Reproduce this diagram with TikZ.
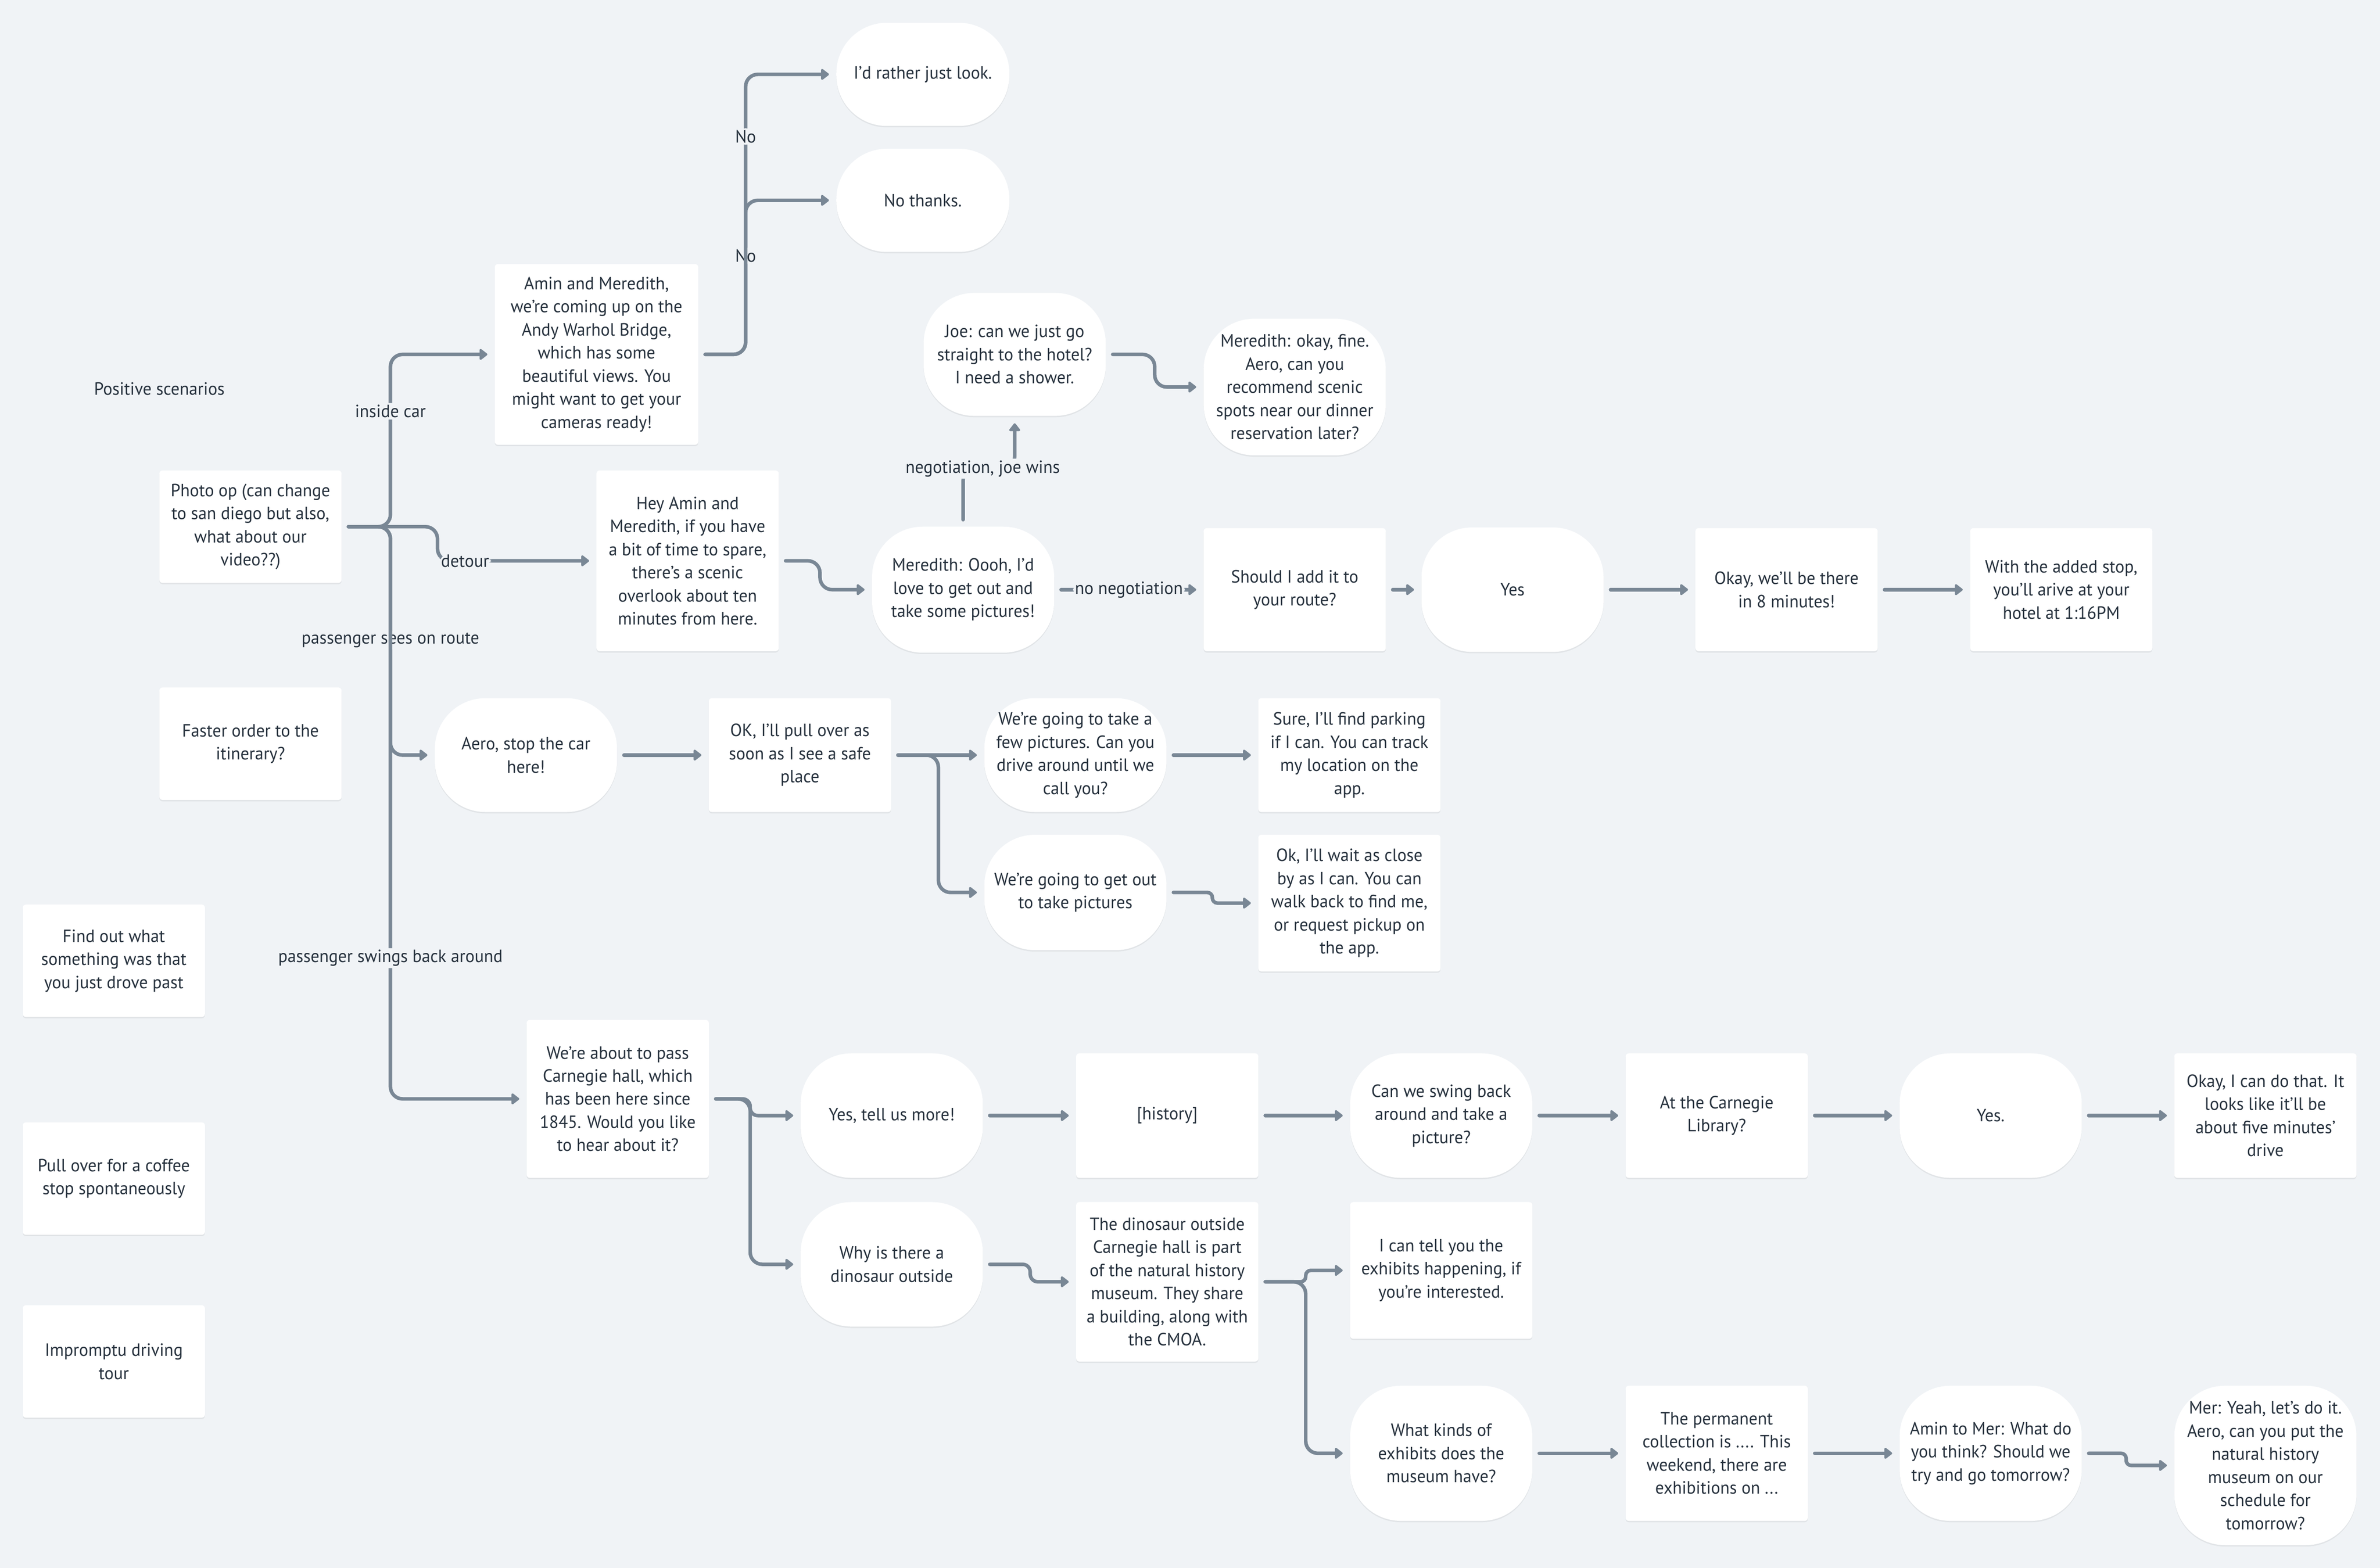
\documentclass[tikz,border=0pt]{standalone}
\usepackage{fontspec}
\setmainfont{PT Sans}[FakeStretch=0.97]
\usepackage{tikz}
\usetikzlibrary{arrows.meta}
\usetikzlibrary{shadows}
\usepackage{xcolor}
\definecolor{canvas}{HTML}{F0F3F6}
\definecolor{wire}{HTML}{798795}
\definecolor{ink}{HTML}{26313D}

\begin{document}
\begin{tikzpicture}[x=0.3mm, y=-0.3mm,
		every node/.style={font=\fontsize{10}{13}\selectfont, text=ink},
		card/.style={fill=white, align=center, minimum width=36mm, inner sep=1mm, rounded corners=0.6mm,
			drop shadow={shadow xshift=0pt, shadow yshift=-0.8pt, opacity=0.06, fill=black}},
		bubble/.style={card, rounded corners=10mm},
		link/.style={draw=wire, line width=2pt, line cap=round, rounded corners=2.4mm,
			-{Triangle[length=1.7mm, width=2.5mm, round]}, shorten <=1.3mm, shorten >=1.4mm},
		lbl/.style={fill=canvas, inner sep=1pt}]
	    		\fill[canvas] (0,0) rectangle (1568,1033);
	    		\useasboundingbox (0,0) rectangle (1568,1033);
	    		\node (heading) at (105,256) {Positive scenarios};
	    		\node[card, minimum height=22.2mm] (photo) at (165,347) {Photo op (can change\\to san diego but also,\\what about our\\video??)};
	    		\node[card, minimum height=22.2mm] (faster) at (165,490) {Faster order to the\\itinerary?};
	    		\node[card, minimum height=22.2mm] (findout) at (75,633) {Find out what\\something was that\\you just drove past};
	    		\node[card, minimum height=22.2mm] (coffee) at (75,776.5) {Pull over for a coffee\\stop spontaneously};
	    		\node[card, minimum height=22.2mm] (tour) at (75,897) {Impromptu driving\\tour};
	    		\node[card, minimum width=40.2mm, minimum height=35.7mm] (bridge) at (393,233.5) {Amin and Meredith,\\we're coming up on the\\Andy Warhol Bridge,\\which has some\\beautiful views. You\\might want to get your\\cameras ready!};
	    		\node[bubble, minimum width=34.2mm, minimum height=20.4mm] (justlook) at (608,49) {I'd rather just look.};
	    		\node[bubble, minimum width=34.2mm, minimum height=20.4mm] (nothanks) at (608,132) {No thanks.};
	    		\node[bubble, minimum height=24.3mm] (shower) at (668.5,233.5) {Joe: can we just go\\straight to the hotel?\\I need a shower.};
	    		\node[bubble, minimum height=27mm] (scenic) at (853,255) {Meredith: okay, fine.\\Aero, can you\\recommend scenic\\spots near our dinner\\reservation later?};
	    		\node[card, minimum height=35.7mm] (overlook) at (453,369.5) {Hey Amin and\\Meredith, if you have\\a bit of time to spare,\\there's a scenic\\overlook about ten\\minutes from here.};
	    		\node[bubble, minimum height=24.9mm] (oooh) at (634.5,388.5) {Meredith: Oooh, I'd\\love to get out and\\take some pictures!};
	    		\node[card, minimum height=24.3mm] (addroute) at (853,388.5) {Should I add it to\\your route?};
	    		\node[bubble, minimum height=24.6mm] (yesadd) at (996.5,388.5) {Yes};
	    		\node[card, minimum height=24.3mm] (eight) at (1177,388.5) {Okay, we'll be there\\in 8 minutes!};
	    		\node[card, minimum height=24.3mm] (arrive) at (1358,388.5) {With the added stop,\\you'll arive at your\\hotel at 1:16PM};
	    		\node[bubble, minimum height=22.5mm] (stopcar) at (346.5,497.5) {Aero, stop the car\\here!};
	    		\node[card, minimum height=22.5mm] (pullover) at (527,497.5) {OK, I'll pull over as\\soon as I see a safe\\place};
	    		\node[bubble, minimum height=22.5mm] (fewpics) at (708.5,497.5) {We're going to take a\\few pictures. Can you\\drive around until we\\call you?};
	    		\node[card, minimum height=22.5mm] (parking) at (889,497.5) {Sure, I'll find parking\\if I can. You can track\\my location on the\\app.};
	    		\node[bubble, minimum height=22.8mm] (getout) at (708.5,588) {We're going to get out\\to take pictures};
	    		\node[card, minimum height=27mm] (waitclose) at (889,595) {Ok, I'll wait as close\\by as I can. You can\\walk back to find me,\\or request pickup on\\the app.};
	    		\node[card, minimum height=31.2mm] (carnegie) at (407,724) {We're about to pass\\Carnegie hall, which\\has been here since\\1845. Would you like\\to hear about it?};
	    		\node[bubble, minimum height=24.6mm] (tellmore) at (587.5,735) {Yes, tell us more!};
	    		\node[bubble, minimum height=24.6mm] (dinosaur) at (587.5,833) {Why is there a\\dinosaur outside};
	    		\node[card, minimum height=24.6mm] (history) at (769,735) {[history]};
	    		\node[card, minimum height=31.5mm] (museum) at (769,844.5) {The dinosaur outside\\Carnegie hall is part\\of the natural history\\museum. They share\\a building, along with\\the CMOA.};
	    		\node[bubble, minimum height=24.6mm] (swing) at (949.5,735) {Can we swing back\\around and take a\\picture?};
	    		\node[card, minimum height=24.6mm] (library) at (1131,735) {At the Carnegie\\Library?};
	    		\node[bubble, minimum height=24.6mm] (yesswing) at (1311.5,735) {Yes.};
	    		\node[card, minimum height=24.6mm] (fivemin) at (1492.5,735) {Okay, I can do that. It\\looks like it'll be\\about five minutes'\\drive};
	    		\node[card, minimum height=27mm] (exhibits) at (949.5,837) {I can tell you the\\exhibits happening, if\\you're interested.};
	    		\node[bubble, minimum height=26.7mm] (kinds) at (949.5,957.5) {What kinds of\\exhibits does the\\museum have?};
	    		\node[card, minimum height=26.7mm] (permanent) at (1131,957.5) {The permanent\\collection is .... This\\weekend, there are\\exhibitions on ...};
	    		\node[bubble, minimum height=26.7mm] (tomorrow) at (1311.5,957.5) {Amin to Mer: What do\\you think? Should we\\try and go tomorrow?};
	    		\node[bubble, minimum height=31.5mm] (schedule) at (1492.5,965.5) {Mer: Yeah, let's do it.\\Aero, can you put the\\natural history\\museum on our\\schedule for\\tomorrow?};
	    		\draw[link] (bridge.east) -- ++(31,0) |- node[lbl, pos=0.32] {No} (nothanks.west);
	    		\draw[link] (bridge.east) -- ++(31,0) |- node[lbl, pos=0.389] {No} (justlook.west);
	    		\draw[link] (photo.east) -- ++(32,0) |- node[lbl, pos=0.335] {inside car} (bridge.west);
	    		\draw[link] (photo.east) -- ++(63,0) |- node[lbl, pos=0.5, anchor=west] {detour} (overlook.west);
	    		\draw[link] (photo.east) -- ++(32,0) |- node[lbl, pos=0.249] {passenger sees on route} (stopcar.west);
	    		\draw[link] (photo.east) -- ++(32,0) |- node[lbl, pos=0.377] {passenger swings back around} (carnegie.west);
	    		\draw[link] (shower.east) -- ++(32,0) |- (scenic.west);
	    		\draw[link] (overlook.east) -- ++(27,0) |- (oooh.west);
	    		\draw[link] (oooh.north) -- ++(0,-38) -| node[lbl, pos=0.19] {negotiation, joe wins} (shower.south);
	    		\draw[link] (oooh) -- node[lbl] {no negotiation} (addroute);
	    		\draw[link] (addroute) -- (yesadd);
	    		\draw[link] (yesadd) -- (eight);
	    		\draw[link] (eight) -- (arrive);
	    		\draw[link] (stopcar) -- (pullover);
	    		\draw[link] (pullover) -- (fewpics);
	    		\draw[link] (pullover.east) -- ++(31,0) |- (getout.west);
	    		\draw[link] (fewpics) -- (parking);
	    		\draw[link, rounded corners=1mm] (getout.east) -- ++(30,0) |- (waitclose.west);
	    		\draw[link, rounded corners=1.5mm] (carnegie.east) -- ++(27,0) |- (tellmore.west);
	    		\draw[link] (carnegie.east) -- ++(27,0) |- (dinosaur.west);
	    		\draw[link] (tellmore) -- (history);
	    		\draw[link, rounded corners=1.5mm] (dinosaur.east) -- ++(31,0) |- (museum.west);
	    		\draw[link] (history) -- (swing);
	    		\draw[link] (swing) -- (library);
	    		\draw[link] (library) -- (yesswing);
	    		\draw[link] (yesswing) -- (fivemin);
	    		\draw[link, rounded corners=1mm] (museum.east) -- ++(31,0) |- (exhibits.west);
	    		\draw[link] (museum.east) -- ++(31,0) |- (kinds.west);
	    		\draw[link] (kinds) -- (permanent);
	    		\draw[link] (permanent) -- (tomorrow);
	    		\draw[link, rounded corners=1mm] (tomorrow.east) -- ++(29,0) |- (schedule.west);
	    	\end{tikzpicture}
\end{document}
